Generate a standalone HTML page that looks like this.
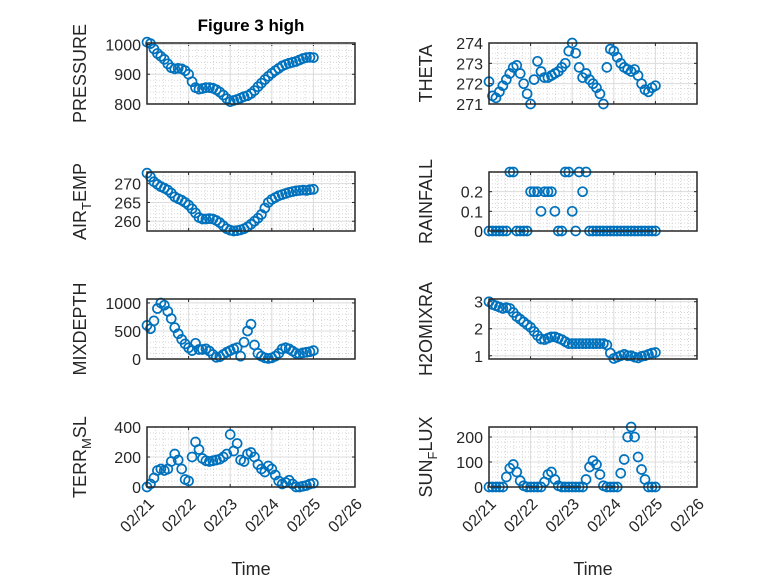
<!DOCTYPE html>
<html><head><meta charset="utf-8"><style>
body{margin:0;background:#fff}
svg text{font-family:"Liberation Sans",sans-serif;fill:#262626}
</style></head><body>
<svg id="fig" width="778" height="583" xmlns="http://www.w3.org/2000/svg">
<text x="251" y="31" text-anchor="middle" font-size="17" font-weight="bold" style="fill:#000">Figure 3 high</text>
</svg>
<script>
const days = [];
const dayTicks = ["02/21","02/22","02/23","02/24","02/25","02/26"];
const pressure = [1008,1003,985,970,960,950,935,922,918,920,918,912,900,875,855,850,852,855,855,853,848,840,830,818,808,812,815,820,825,828,835,845,858,870,882,893,903,912,920,928,933,937,940,943,948,953,956,957,956];
const airTemp = [272.8,271.8,270.5,269.8,269.2,268.8,268.3,267.5,266.5,266.0,265.6,265.0,264.3,263.3,262.2,261.0,260.6,260.6,260.7,260.6,260.2,259.6,258.8,258.0,257.6,257.4,257.5,257.7,258.0,258.5,259.2,260.0,260.8,261.8,263.5,265.0,265.8,266.3,266.8,267.1,267.4,267.7,267.9,268.1,268.2,268.3,268.2,268.4,268.5];
const theta = [272.1,271.4,271.3,271.6,271.9,272.2,272.5,272.8,272.9,272.5,272.0,271.5,271.0,272.2,273.1,272.6,272.3,272.3,272.4,272.5,272.6,272.8,273.0,273.6,274.0,273.5,272.8,272.3,272.5,272.2,272.0,271.8,271.5,271.0,272.8,273.7,273.6,273.3,273.0,272.8,272.7,272.6,272.7,272.4,272.0,271.7,271.6,271.8,271.9];
const rainfall = [0,0,0,0,0,0,0.3,0.3,0,0,0,0,0.2,0.2,0.2,0.1,0.2,0.2,0.2,0.1,0,0,0.3,0.3,0.1,0,0.3,0.2,0.3,0,0,0,0,0,0,0,0,0,0,0,0,0,0,0,0,0,0,0,0];
const mixDepth = [600,540,680,900,1000,960,850,720,560,450,350,270,200,150,280,170,170,180,140,80,30,40,80,120,150,180,200,50,300,500,620,250,100,50,20,10,20,50,100,180,200,180,140,100,90,110,120,130,150];
const h2o = [3.0,2.9,2.85,2.8,2.75,2.78,2.75,2.6,2.45,2.35,2.25,2.15,2.05,1.9,1.75,1.62,1.6,1.65,1.7,1.7,1.65,1.6,1.52,1.45,1.45,1.45,1.45,1.45,1.45,1.45,1.45,1.45,1.45,1.45,1.4,1.1,0.9,0.95,1.0,1.05,1.0,1.0,0.95,0.92,0.98,1.0,1.05,1.1,1.12];
const terrMsl = [0,20,60,110,120,110,120,170,220,180,120,50,40,200,300,250,190,175,170,175,180,185,200,220,350,240,290,180,170,220,230,200,150,120,100,140,120,80,40,20,30,45,20,0,0,5,10,20,25];
const sunFlux = [0,0,0,0,0,40,75,90,60,25,5,0,0,0,0,0,20,50,60,30,5,0,0,0,0,0,0,0,30,80,105,90,50,5,0,0,0,0,55,110,200,240,200,120,70,30,0,0,0];
for(let i=0;i<49;i++) days.push(i/12);

const NS="http://www.w3.org/2000/svg";
const svg=document.getElementById('fig');
function mk(t,a,p){const e=document.createElementNS(NS,t);for(const k in a)e.setAttribute(k,a[k]);(p||svg).appendChild(e);return e;}

const panels=[
 {name:'pressure',label:['PRESSURE'],data:pressure,ylim:[800,1005],ticks:[800,900,1000],minor:20,col:0,row:0},
 {name:'theta',label:['THETA'],data:theta,ylim:[271,274],ticks:[271,272,273,274],minor:0.25,col:1,row:0},
 {name:'air-temp',label:['AIR','T','EMP'],data:airTemp,ylim:[257.4,273.1],ticks:[260,265,270],minor:1,col:0,row:1},
 {name:'rainfall',label:['RAINFALL'],data:rainfall,ylim:[0,0.3],ticks:[0,0.1,0.2],minor:0.02,col:1,row:1},
 {name:'mixdepth',label:['MIXDEPTH'],data:mixDepth,ylim:[0,1070],ticks:[0,500,1000],minor:100,col:0,row:2},
 {name:'h2o-mixratio',label:['H2OMIXRA'],data:h2o,ylim:[0.88,3.1],ticks:[1,2,3],minor:0.2,col:1,row:2},
 {name:'terr-msl',label:['TERR','M','SL'],data:terrMsl,ylim:[0,400],ticks:[0,200,400],minor:40,col:0,row:3},
 {name:'sun-flux',label:['SUN','F','LUX'],data:sunFlux,ylim:[0,240],ticks:[0,100,200],minor:20,col:1,row:3},
];
const colX=[147,489], W=208;
const rowY=[[43,104],[172,231],[299,359],[427,487]];

panels.forEach(p=>{
 const x0=colX[p.col], x1=x0+W, y0=rowY[p.row][0], y1=rowY[p.row][1];
 const g=mk('g',{});
 
 
 const sx=d=>x0+d/5*W;
 const sy=v=>y1-(v-p.ylim[0])/(p.ylim[1]-p.ylim[0])*(y1-y0);
 for(let d=0;d<5;d+=0.2){const xx=sx(d);mk('line',{x1:xx,x2:xx,y1:y0,y2:y1,stroke:'#c8c8c8','stroke-width':0.7,'stroke-dasharray':'1,2'},g);}
 const mstart=Math.ceil(p.ylim[0]/p.minor)*p.minor;
 for(let v=mstart;v<=p.ylim[1]+1e-9;v+=p.minor){const yy=sy(v);mk('line',{x1:x0,x2:x1,y1:yy,y2:yy,stroke:'#c8c8c8','stroke-width':0.7,'stroke-dasharray':'1,2'},g);}
 dayTicks.forEach((t,i)=>{const xx=sx(i);mk('line',{x1:xx,x2:xx,y1:y0,y2:y1,stroke:'#dcdcdc','stroke-width':1},g);
   mk('line',{x1:xx,x2:xx,y1:y1,y2:y1-3,stroke:'#262626'},g);mk('line',{x1:xx,x2:xx,y1:y0,y2:y0+3,stroke:'#262626'},g);});
 p.ticks.forEach(v=>{const yy=sy(v);mk('line',{x1:x0,x2:x1,y1:yy,y2:yy,stroke:'#dcdcdc','stroke-width':1},g);
   mk('line',{x1:x0,x2:x0+3,y1:yy,y2:yy,stroke:'#262626'},g);mk('line',{x1:x1,x2:x1-3,y1:yy,y2:yy,stroke:'#262626'},g);
   const t=mk('text',{x:x0-6,y:yy+6,'text-anchor':'end','font-size':16},g);t.textContent=String(v);
   
   });
 const dg=mk('g',{},g);
 
 
 p.data.forEach((v,i)=>{const c=mk('circle',{cx:sx(days[i]),cy:sy(v),r:4.5,fill:'none',stroke:'#0072BD','stroke-width':1.7},dg);
   
   });
 mk('rect',{x:x0,y:y0,width:W,height:y1-y0,fill:'none',stroke:'#262626','stroke-width':1.5},g);
 const lx=p.col===0?86:432, ly=(y0+y1)/2;
 const lt=mk('text',{x:0,y:0,'text-anchor':'middle','font-size':18,transform:`translate(${lx},${ly}) rotate(-90)`},g);
 
 
 if(p.label.length===1){lt.textContent=p.label[0];}
 else{const a=mk('tspan',{},lt);a.textContent=p.label[0];
   const b=mk('tspan',{'font-size':13,dy:5},lt);b.textContent=p.label[1];
   const c=mk('tspan',{dy:-5},lt);c.textContent=p.label[2];}
 if(p.row===3){
   dayTicks.forEach((t,i)=>{const xx=sx(i);const tt=mk('text',{x:0,y:0,'text-anchor':'end','font-size':16,transform:`translate(${xx+8},${y1+18}) rotate(-45)`},g);
     tt.textContent=t;
     
     });
   const xl=mk('text',{x:x0+W/2,y:575,'text-anchor':'middle','font-size':18},g);
   xl.textContent='Time';
   
   
 }
});
</script>
</body></html>
